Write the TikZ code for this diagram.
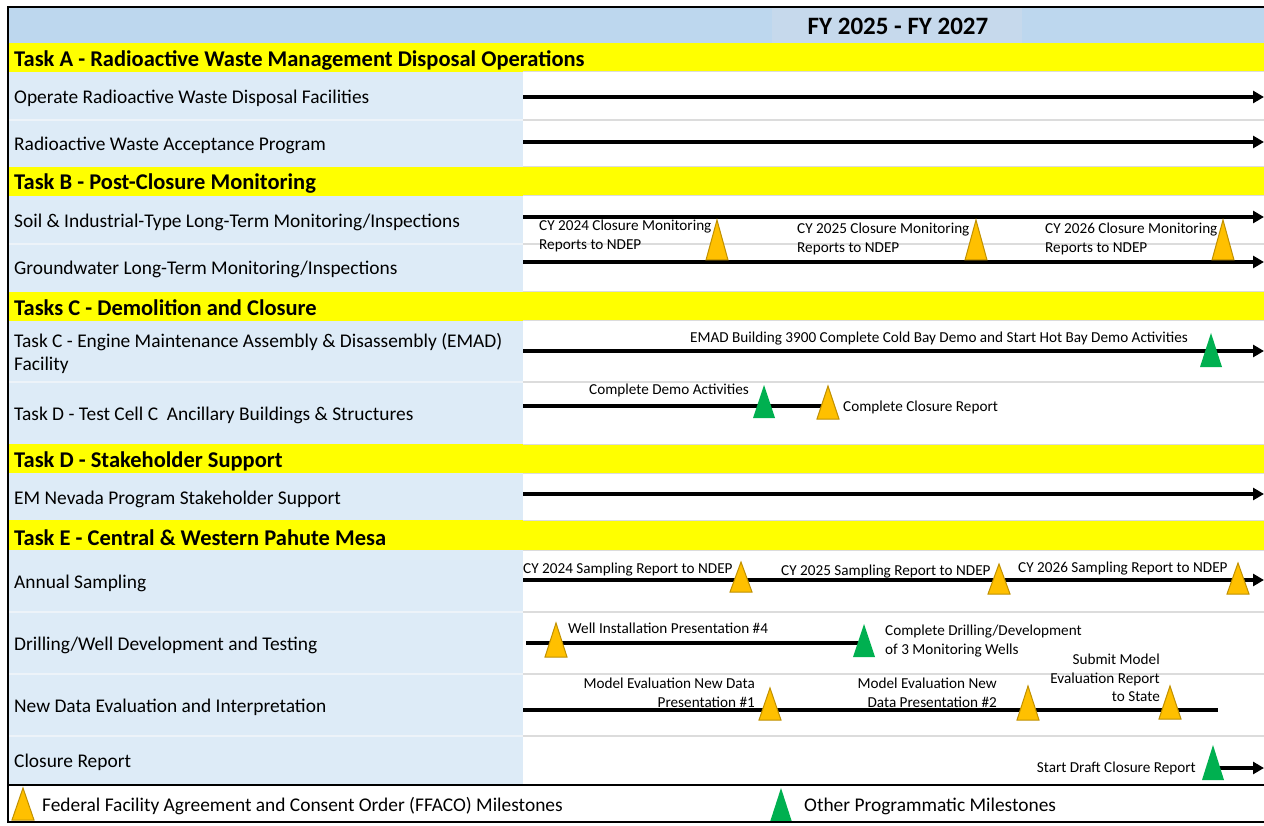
\documentclass[tikz,border=0pt]{standalone}
\usepackage{fontspec}
\setmainfont{Carlito}
\usetikzlibrary{arrows.meta}
\definecolor{hdrblue}{HTML}{BDD7EE}
\definecolor{hdrmid}{HTML}{C6D9EC}
\definecolor{leftblue}{HTML}{DDEBF7}
\definecolor{bandyellow}{HTML}{FFFF00}
\definecolor{gridgray}{HTML}{DCDCDC}
\definecolor{leftgrid}{HTML}{EDF3F9}
\definecolor{ffacofill}{HTML}{FFC000}
\definecolor{ffacoedge}{HTML}{C09000}
\definecolor{progreen}{HTML}{00B050}
\newcommand\rowfont{\fontsize{19.4}{23}\selectfont}
\newcommand\bandfont{\fontsize{22.5}{26}\selectfont\bfseries}
\newcommand\notefont{\fontsize{15.2}{18.5}\selectfont}
\tikzset{
  rowlabel/.style={anchor=west, inner sep=0pt, font=\rowfont, align=left},
  bandlabel/.style={anchor=west, inner sep=0pt, font=\bandfont},
  notel/.style={anchor=west, inner sep=0pt, font=\notefont, align=left},
  noter/.style={anchor=east, inner sep=0pt, font=\notefont, align=right},
  bar/.style={line width=4pt, black},
  bararrow/.style={bar, -{Triangle[length=11pt,width=12pt]}},
  ftri/.pic={\filldraw[fill=ffacofill, draw=ffacoedge, line width=1pt, line join=miter]
      (-11,0) -- (0,-#1) -- (11,0) -- cycle;},
  gtri/.pic={\fill[progreen] (-11,0) -- (0,-#1) -- (11,0) -- cycle;},
}
\begin{document}
\begin{tikzpicture}[x=1pt,y=-1pt]
\useasboundingbox (0,0) rectangle (1264,826);
\fill[white] (0,0) rectangle (1264,826);
% header
\fill[hdrblue] (8,7) rectangle (1264,43);
\fill[hdrmid] (772,7) rectangle (1022,43);
\node[font=\fontsize{25}{28}\selectfont\bfseries, inner sep=0pt] (title) at (898,26) {FY 2025 - FY 2027};
% yellow bands
\foreach \a/\b in {43/72,167/196,292/321,444/473,520/550}
  \fill[bandyellow] (8,\a) rectangle (1264,\b);
% left column
\foreach \a/\b in {72/167,196/292,321/444,473/520,550/784}
  \fill[leftblue] (8,\a) rectangle (523,\b);
% grid lines
\foreach \y in {120,244,382,612,674,736}{
  \draw[gridgray, line width=1.5pt] (523,\y) -- (1264,\y);
  \draw[leftgrid, line width=1.5pt] (8,\y) -- (523,\y);
}
\foreach \y in {72,167,196,292,321,444,473,520,550}
  \draw[gridgray, line width=1pt] (523,\y) -- (1264,\y);
% row labels
\node[bandlabel] (tA) at (14,60) {Task A - Radioactive Waste Management Disposal Operations};
\node[rowlabel] (r1) at (14,98) {Operate Radioactive Waste Disposal Facilities};
\node[rowlabel] (r2) at (14,145) {Radioactive Waste Acceptance Program};
\node[bandlabel] (tB) at (14,184) {Task B - Post-Closure Monitoring};
\node[rowlabel] (r3) at (14,222) {Soil \& Industrial-Type Long-Term Monitoring/Inspections};
\node[rowlabel] (r4) at (14,269) {Groundwater Long-Term Monitoring/Inspections};
\node[bandlabel] (tC) at (14,308) {Tasks C - Demolition and Closure};
\node[rowlabel] (r5) at (14,353) {Task C - Engine Maintenance Assembly \& Disassembly (EMAD)\\Facility};
\node[rowlabel] (r6) at (14,415) {Task D - Test Cell C\ \ Ancillary Buildings \& Structures};
\node[bandlabel] (tD) at (14,461) {Task D - Stakeholder Support};
\node[rowlabel] (r7) at (14,499) {EM Nevada Program Stakeholder Support};
\node[bandlabel] (tE) at (14,538) {Task E - Central \& Western Pahute Mesa};
\node[rowlabel] (r8) at (14,583) {Annual Sampling};
\node[rowlabel] (r9) at (14,645) {Drilling/Well Development and Testing};
\node[rowlabel] (r10) at (14,707) {New Data Evaluation and Interpretation};
\node[rowlabel] (r11) at (14,762) {Closure Report};
% bar end points
\coordinate (b1s) at (523,97);  \coordinate (b1e) at (1264,97);
\coordinate (b2s) at (523,142); \coordinate (b2e) at (1264,142);
\coordinate (b3s) at (523,217); \coordinate (b3e) at (1264,217);
\coordinate (b4s) at (523,262); \coordinate (b4e) at (1264,262);
\coordinate (b5s) at (523,351); \coordinate (b5e) at (1264,351);
\coordinate (b6s) at (523,406); \coordinate (b6e) at (828,406);
\coordinate (b7s) at (523,494); \coordinate (b7e) at (1264,494);
\coordinate (b8s) at (523,580); \coordinate (b8e) at (1264,580);
\coordinate (b9s) at (526,643); \coordinate (b9e) at (862,643);
\coordinate (b10s) at (523,710); \coordinate (b10e) at (1218,710);
\coordinate (b11s) at (1213,768); \coordinate (b11e) at (1264,768);
\draw[bararrow] (b1s) -- (b1e);
\draw[bararrow] (b2s) -- (b2e);
\draw[bararrow] (b3s) -- (b3e);
\draw[bararrow] (b4s) -- (b4e);
\draw[bararrow] (b5s) -- (b5e);
\draw[bar] (b6s) -- (b6e);
\draw[bararrow] (b7s) -- (b7e);
\draw[bararrow] (b8s) -- (b8e);
\draw[bar] (b9s) -- (b9e);
\draw[bar] (b10s) -- (b10e);
\draw[bararrow] (b11s) -- (b11e);
% milestones
\pic (m1) at (717,260) {ftri=40};
\pic (m2) at (976,260) {ftri=40};
\pic (m3) at (1223,260) {ftri=40};
\pic (m4) at (1211,367) {gtri=34};
\pic (m5) at (764,418) {gtri=33};
\pic (m6) at (828,419) {ftri=33};
\pic (m7) at (741,592) {ftri=30};
\pic (m8) at (999,594) {ftri=30};
\pic (m9) at (1238,594) {ftri=31};
\pic (m10) at (556,657) {ftri=34};
\pic (m11) at (864,657) {gtri=33};
\pic (m12) at (770,720) {ftri=32};
\pic (m13) at (1028,720) {ftri=34};
\pic (m14) at (1170,719) {ftri=33};
\pic (m15) at (1213,780) {gtri=35};
% notes
\node[notel] (n1) at (539,236) {CY 2024 Closure Monitoring\\Reports to NDEP};
\node[notel] (n2) at (797,239) {CY 2025 Closure Monitoring\\Reports to NDEP};
\node[notel] (n3) at (1045,239) {CY 2026 Closure Monitoring\\Reports to NDEP};
\node[notel] (n4) at (690,339) {EMAD Building 3900 Complete Cold Bay Demo and Start Hot Bay Demo Activities};
\node[notel] (n5) at (589,390) {Complete Demo Activities};
\node[notel] (n6) at (843,407) {Complete Closure Report};
\node[notel] (n7) at (523,570) {CY 2024 Sampling Report to NDEP};
\node[notel] (n8) at (781,572) {CY 2025 Sampling Report to NDEP};
\node[notel] (n9) at (1018,569) {CY 2026 Sampling Report to NDEP};
\node[notel] (n10) at (568,628) {Well Installation Presentation \#4};
\node[notel] (n11) at (885,641) {Complete Drilling/Development\\of 3 Monitoring Wells};
\node[noter] (n12) at (755,693) {Model Evaluation New Data\\Presentation \#1};
\node[noter] (n13) at (997,693) {Model Evaluation New\\Data Presentation \#2};
\node[noter] (n14) at (1160,678) {Submit Model\\Evaluation Report\\to State};
\node[noter] (n15) at (1196,768) {Start Draft Closure Report};
% legend
\draw[line width=2pt] (8,785) -- (1264,785);
\pic (lg1) at (23,820) {ftri=32};
\node[rowlabel] (lt1) at (42,806) {Federal Facility Agreement and Consent Order (FFACO) Milestones};
\pic (lg2) at (781,822) {gtri=34};
\node[rowlabel] (lt2) at (804,806) {Other Programmatic Milestones};
% frame
\draw[line width=2pt] (8,7) rectangle (1268,822);
\end{tikzpicture}
\end{document}
